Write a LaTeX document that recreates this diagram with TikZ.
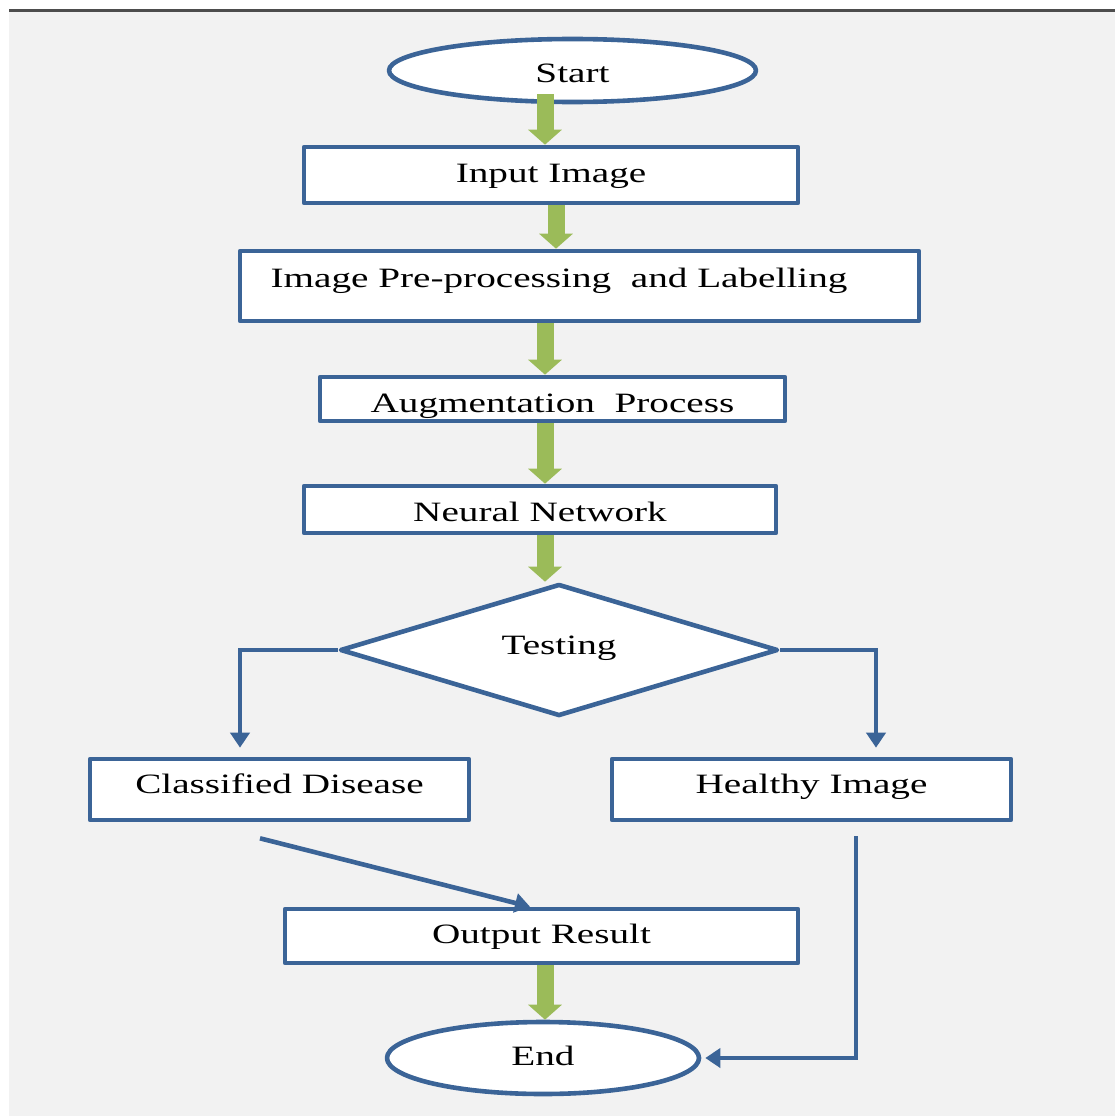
\documentclass[tikz,border=0pt]{standalone}
\usepackage{fontspec}
\setmainfont{Liberation Serif}
\usetikzlibrary{shapes.geometric, arrows.meta}
\definecolor{ink}{HTML}{000000}
\definecolor{flowblue}{HTML}{3B6497}
\definecolor{flowgreen}{HTML}{9BBB59}
\definecolor{panel}{HTML}{F2F2F2}
\definecolor{rule}{HTML}{4D4D4D}
\newcommand{\figfontsize}{\fontsize{28}{32}\selectfont}
% labels are set wide, as in the source figure
\newcommand{\lbl}[2][0pt]{\raisebox{#1}{\scalebox{1.4}[1]{#2}}}
\tikzset{
  every picture/.style = {font=\figfontsize, line join=round},
  box/.style       = {draw=flowblue, line width=4.6pt, fill=white, inner sep=0pt,
                      text=ink, text height=20pt, text depth=5pt},
  term/.style      = {box, ellipse},
  decision/.style  = {box, diamond, aspect=3.3},
  flowarrow/.style = {flowgreen, line width=17pt, -{Triangle[width=33pt, length=15pt]}},
  branch/.style    = {flowblue, line width=4.6pt, line join=miter,
                      -{Triangle[width=19pt, length=15pt]}},
}

\begin{document}
\begin{tikzpicture}[x=1pt, y=-1pt]
  \useasboundingbox (0,0) rectangle (1115,1116);
  % page ground with the rule along the top
  \fill[white] (0,0) rectangle (1115,1116);
  \fill[panel] (9,12) rectangle (1115,1116);
  \draw[rule, line width=3pt] (9,11) -- (1115,11);

  % --- steps ---------------------------------------------------------------
  \node[term, minimum width=367pt, minimum height=63pt] (start) at (572.5,70.5) {\lbl[-4pt]{Start}};
  \node[box, minimum width=494pt, minimum height=56pt] (inp) at (551,175) {\lbl{Input Image}};
  \node[box, minimum width=679pt, minimum height=70pt] (prep) at (579.5,286)
    {\hspace*{-41pt}\lbl[6pt]{Image Pre-processing\ \ and Labelling}};
  % text runs past the lower edge, so it is clipped to the box
  \node[box, minimum width=465pt, minimum height=44pt,
        path picture={\node[draw=none, fill=none, inner sep=0pt, text=ink,
                            text height=20pt, text depth=5pt]
                        at (path picture bounding box.center) {\lbl[-6pt]{Augmentation\ \ Process}};}]
    (aug) at (552.5,399) {};
  \node[box, minimum width=472pt, minimum height=47pt] (nn) at (540,509.5) {\lbl[-4pt]{Neural Network}};
  \node[decision, minimum width=438pt, minimum height=132pt] (test) at (559,650) {\lbl[3pt]{Testing}};
  \node[box, minimum width=379pt, minimum height=61pt] (cls) at (279.5,789.5) {\lbl[4pt]{Classified Disease}};
  \node[box, minimum width=399pt, minimum height=61pt] (hea) at (811.5,789.5) {\lbl[4pt]{Healthy Image}};
  \node[box, minimum width=513pt, minimum height=54pt] (out) at (541.5,936) {\lbl{Output Result}};
  \node[term, minimum width=312pt, minimum height=72pt] (end) at (543,1058) {\lbl{End}};

  % --- main flow -----------------------------------------------------------
  \draw[flowarrow] ([xshift=-27.5pt, yshift=10pt]start.south) -- ([xshift=-6pt]inp.north);
  \draw[flowarrow] ([xshift=5pt]inp.south) -- ([xshift=-23.5pt]prep.north);
  \draw[flowarrow] ([xshift=-34.5pt]prep.south) -- ([xshift=-7.5pt]aug.north);
  \draw[flowarrow] ([xshift=-7.5pt]aug.south) -- ([xshift=5pt]nn.north);
  \draw[flowarrow] ([xshift=5pt]nn.south) -- ([xshift=-14pt]test.north);
  \draw[flowarrow] ([xshift=3.5pt]out.south) -- ([xshift=2pt]end.north);

  % --- branches ------------------------------------------------------------
  \draw[branch] (test.west) -| ([xshift=-39.5pt, yshift=9pt]cls.north);
  \draw[branch] (test.east) -| ([xshift=64.5pt, yshift=9pt]hea.north);
  \draw[branch] ([xshift=-19.5pt, yshift=-16pt]cls.south) -- ([xshift=-11.5pt]out.north);
  \draw[branch] ([xshift=44.5pt, yshift=-14pt]hea.south) |- ([xshift=4pt]end.east);
\end{tikzpicture}
\end{document}
